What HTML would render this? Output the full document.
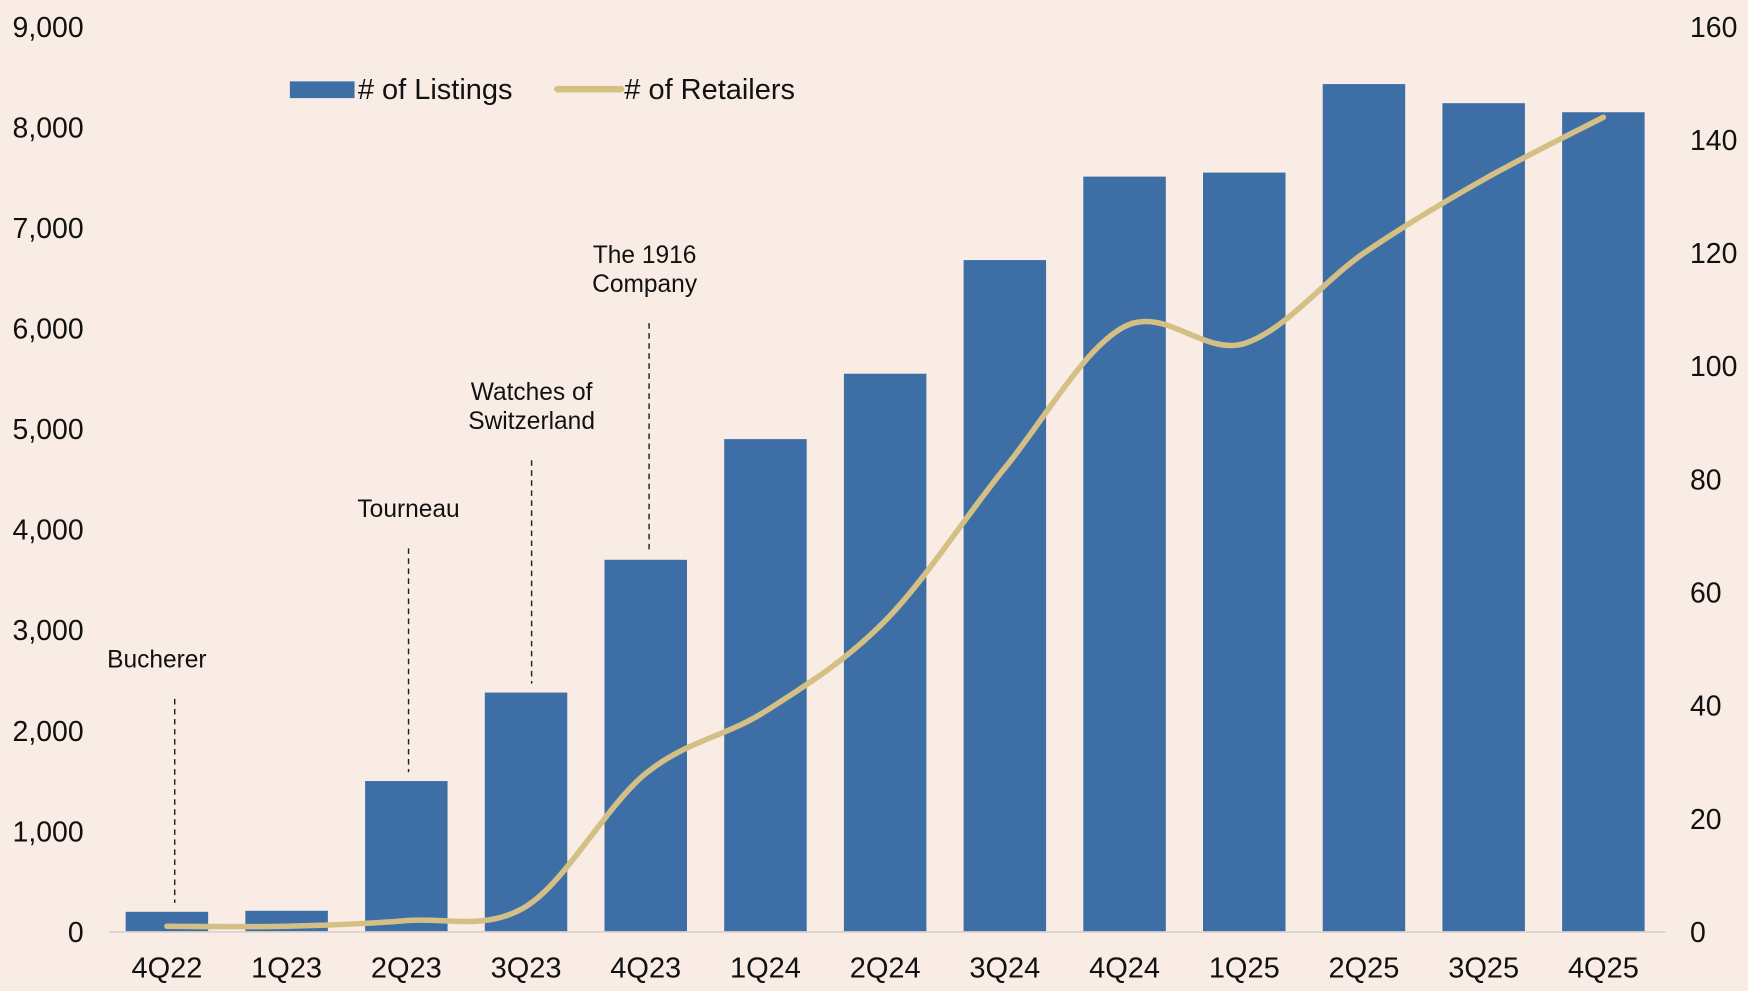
<!DOCTYPE html>
<html><head><meta charset="utf-8"><style>
html,body{margin:0;padding:0;background:#f9ece4;}
svg{display:block;font-family:"Liberation Sans",sans-serif;}
</style></head><body>
<svg id="chart" width="1748" height="991" viewBox="0 0 1568 889" xmlns="http://www.w3.org/2000/svg">
<rect width="1568" height="889" fill="#f9ece4"/>
<g id="bars"></g>
<g id="annot"></g>
<g id="line"></g>
<g id="axes"></g>
<g>
<rect x="260" y="73" width="58" height="15" fill="#3e6ea6"/>
<text x="321" y="89" font-size="26" fill="#111"># of Listings</text>
<line x1="500" y1="80" x2="557" y2="80" stroke="#d4bf85" stroke-width="6" stroke-linecap="round"/>
<text x="560" y="89" font-size="26" fill="#111"># of Retailers</text>
</g>
</svg>
<script>
const categories=["4Q22","1Q23","2Q23","3Q23","4Q23","1Q24","2Q24","3Q24","4Q24","1Q25","2Q25","3Q25","4Q25"];
const listings=[200,210,1500,2380,3700,4900,5550,6680,7510,7550,8430,8240,8150];
const retailers=[1,1,2,4.5,28,39,55,82,107,104,120,133,144];
const leftTicks=[0,1000,2000,3000,4000,5000,6000,7000,8000,9000];
const rightTicks=[0,20,40,60,80,100,120,140,160];
const annotations=[{i:0,lines:["Bucherer"],top:2317},{i:2,lines:["Tourneau"],top:3814},{i:3,lines:["Watches of","Switzerland"],top:4690},{i:4,lines:["The 1916","Company"],top:6053}];
const NS="http://www.w3.org/2000/svg";
const y0=836,yTop=24,xStart=98,xEnd=1494;
const yL=v=>y0-(v/9000)*(y0-yTop);
const yR=v=>y0-(v/160)*(y0-yTop);
const step=(xEnd-xStart)/categories.length;
const xC=i=>xStart+step*(i+0.5)-2;
function mk(t,a,p){const e=document.createElementNS(NS,t);for(const k in a)e.setAttribute(k,a[k]);p.appendChild(e);return e;}
const gb=document.getElementById('bars'),ga=document.getElementById('axes'),gl=document.getElementById('line'),gn=document.getElementById('annot');
const bw=74;
listings.forEach((v,i)=>{
 const r=mk('rect',{x:xC(i)-bw/2,y:yL(v),width:bw,height:y0-yL(v),fill:'#3e6ea6'},gb);
 
 
});
const ax=mk('line',{x1:xStart,y1:y0,x2:xEnd,y2:y0,stroke:'#d9d0cc','stroke-width':1.5},ga);


leftTicks.forEach(v=>{
 const t=mk('text',{x:75,y:yL(v)+9,'text-anchor':'end','font-size':25.5,fill:'#111'},ga);t.textContent=v.toLocaleString('en-US');
 
 
});
rightTicks.forEach(v=>{
 const t=mk('text',{x:1516,y:yR(v)+9,'font-size':25.5,fill:'#111'},ga);t.textContent=v;
 
 
});
categories.forEach((c,i)=>{
 const t=mk('text',{x:xC(i),y:877,'text-anchor':'middle','font-size':26,fill:'#111'},ga);t.textContent=c;
 
 
});
const pts=retailers.map((v,i)=>[xC(i),yR(v)]);
let d='M'+pts[0][0]+','+pts[0][1];
for(let i=0;i<pts.length-1;i++){
 const p0=pts[Math.max(0,i-1)],p1=pts[i],p2=pts[i+1],p3=pts[Math.min(pts.length-1,i+2)];
 const c1=[p1[0]+(p2[0]-p0[0])/6,p1[1]+(p2[1]-p0[1])/6],c2=[p2[0]-(p3[0]-p1[0])/6,p2[1]-(p3[1]-p1[1])/6];
 d+=' C'+c1+' '+c2+' '+p2;
}
const path=mk('path',{d:d,fill:'none',stroke:'#d4bf85','stroke-width':5,'stroke-linecap':'round'},gl);


annotations.forEach(a=>{
 const x=xC(a.i)+(a.i===0?7:a.i===4?3:a.i===3?5:2);
 const top=yL(a.top);
 const ln=mk('line',{x1:x,y1:top,x2:x,y2:Math.min(yL(listings[a.i])-8,830),stroke:'#222','stroke-width':1.3,'stroke-dasharray':'5,4'},gn);
 
 
 const n=a.lines.length;
 a.lines.forEach((s,k)=>{
  const t=mk('text',{x:x-(a.i===0?16:a.i===4?4:0),y:top-28-(n-1-k)*26,'text-anchor':'middle','font-size':22,fill:'#111'},gn);t.textContent=s;
  
  
 });
});
</script>
</body></html>
